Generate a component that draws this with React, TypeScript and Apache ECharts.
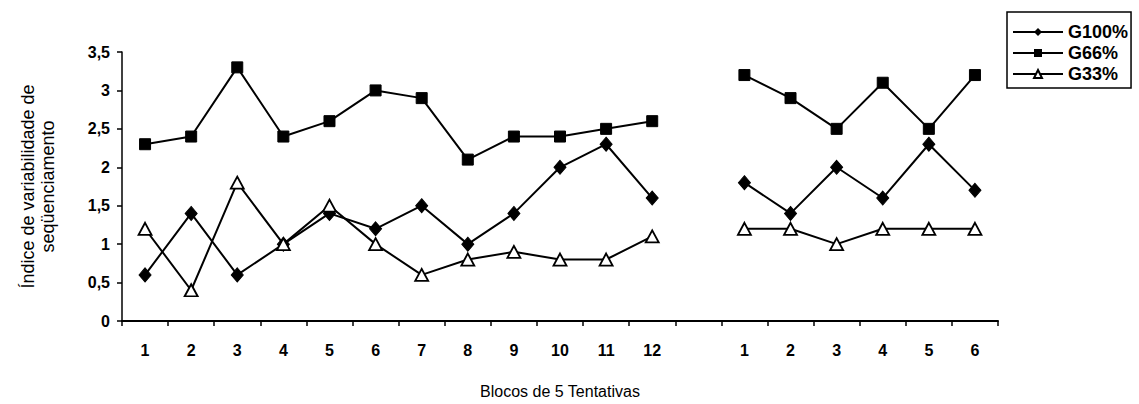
import React, { useEffect, useRef } from "react";
import * as echarts from "echarts";

const categories = ["1","2","3","4","5","6","7","8","9","10","11","12","","1","2","3","4","5","6"];
const g100 = [0.6,1.4,0.6,1.0,1.4,1.2,1.5,1.0,1.4,2.0,2.3,1.6,null,1.8,1.4,2.0,1.6,2.3,1.7];
const g66 = [2.3,2.4,3.3,2.4,2.6,3.0,2.9,2.1,2.4,2.4,2.5,2.6,null,3.2,2.9,2.5,3.1,2.5,3.2];
const g33 = [1.2,0.4,1.8,1.0,1.5,1.0,0.6,0.8,0.9,0.8,0.8,1.1,null,1.2,1.2,1.0,1.2,1.2,1.2];
const seriesNames = ["G100%", "G66%", "G33%"];
const yTicks = { min: 0, max: 3.5, interval: 0.5 };

const FONT = "'Liberation Sans', Arial, sans-serif";

export default function App() {
  const ref = useRef<HTMLDivElement>(null);
  useEffect(() => {
    if (!ref.current) return;
    const chart = echarts.init(ref.current, undefined, { renderer: "svg" });
    const common = {
      type: "line",
      connectNulls: false,
      lineStyle: { color: "#000", width: 2 },
    };
    chart.setOption({
      animation: false,
      backgroundColor: "#fff",
      textStyle: { fontFamily: FONT, color: "#000" },
      grid: { left: 122, right: 141, top: 52, bottom: 76 },
      legend: {
        orient: "vertical",
        left: 1007,
        top: 12,
        itemGap: 3,
        itemWidth: 50,
        itemHeight: 10,
        borderColor: "#000",
        borderWidth: 1.5,
        padding: [11, 3, 5, 5],
        textStyle: { fontFamily: FONT, fontWeight: "bold", fontSize: 18, color: "#000" },
        data: seriesNames,
      },
      xAxis: {
        type: "category",
        data: categories,
        boundaryGap: true,
        name: "Blocos de 5 Tentativas",
        nameLocation: "middle",
        nameGap: 62,
        nameTextStyle: { fontFamily: FONT, fontSize: 16, color: "#000" },
        axisLine: { lineStyle: { color: "#000", width: 2 } },
        axisTick: { show: true, inside: false, length: 5, interval: 0, lineStyle: { color: "#000", width: 1.5 } },
        axisLabel: { interval: 0, margin: 21, fontFamily: FONT, fontWeight: "bold", fontSize: 16, color: "#000" },
        splitLine: { show: false },
      },
      yAxis: {
        type: "value",
        min: yTicks.min,
        max: yTicks.max,
        interval: yTicks.interval,
        name: "Índice de variabilidade de\nseqüenciamento",
        nameLocation: "middle",
        nameGap: 64,
        nameRotate: 90,
        nameTextStyle: { fontFamily: FONT, fontSize: 18, color: "#000", lineHeight: 20 },
        axisLine: { show: true, lineStyle: { color: "#000", width: 1.5 } },
        axisTick: { show: true, inside: false, length: 5, lineStyle: { color: "#000", width: 1.5 } },
        axisLabel: {
          margin: 12,
          fontFamily: FONT,
          fontWeight: "bold",
          fontSize: 16,
          color: "#000",
          formatter: (v: number) => String(v).replace(".", ","),
        },
        splitLine: { show: false },
      },
      series: [
        {
          ...common,
          name: seriesNames[0],
          data: g100,
          symbol: "diamond",
          symbolSize: [12, 14],
          itemStyle: { color: "#000", borderColor: "#000" },
        },
        {
          ...common,
          name: seriesNames[1],
          data: g66,
          symbol: "rect",
          symbolSize: 11,
          itemStyle: { color: "#000", borderColor: "#000" },
        },
        {
          ...common,
          name: seriesNames[2],
          data: g33,
          symbol: "triangle",
          symbolSize: [13, 12],
          itemStyle: { color: "#fff", borderColor: "#000", borderWidth: 1.8 },
        },
      ],
    });
    return () => chart.dispose();
  }, []);
  return <div ref={ref} style={{ width: 1139, height: 404, position: "absolute", left: 0, top: 0 }} />;
}
